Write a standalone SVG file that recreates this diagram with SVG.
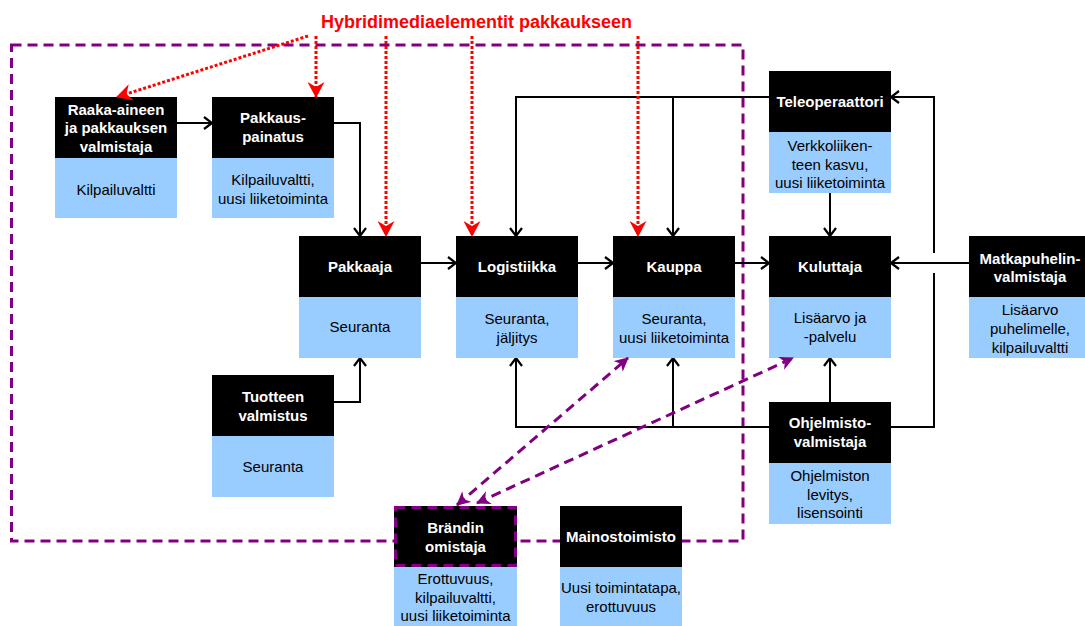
<svg xmlns="http://www.w3.org/2000/svg" width="1085" height="626" viewBox="0 0 1085 626">
  <style>
    .head { fill: #000000; }
    .body { fill: #99ccff; }
    .ttl { font-family: "Liberation Sans", Arial, sans-serif; font-size: 15px; font-weight: bold; fill: #ffffff; text-anchor: middle; }
    .txt { font-family: "Liberation Sans", Arial, sans-serif; font-size: 15px; fill: #000000; text-anchor: middle; }
    .flow { fill: none; stroke: #000000; stroke-width: 2; }
    .hyb { fill: none; stroke: #ff0000; stroke-width: 3; stroke-dasharray: 3 2; }
    .brand { fill: none; stroke: #800080; stroke-width: 3; stroke-dasharray: 10 6; }
  </style>
  <defs>
    <marker id="open" viewBox="0 0 10 14" refX="9" refY="7" markerWidth="10" markerHeight="14" markerUnits="userSpaceOnUse" orient="auto">
      <path d="M1,1 L9,7 L1,13" fill="none" stroke="#000000" stroke-width="2.2"/>
    </marker>
    <marker id="red" viewBox="0 0 16 17" refX="15" refY="8.5" markerWidth="16" markerHeight="17" markerUnits="userSpaceOnUse" orient="auto">
      <path d="M0,0 L16,8.5 L0,17 L5,8.5 z" fill="#ff0000"/>
    </marker>
    <marker id="pur" viewBox="0 0 14 14" refX="13" refY="7" markerWidth="14" markerHeight="14" markerUnits="userSpaceOnUse" orient="auto-start-reverse">
      <path d="M0,0 L14,7 L0,14 L4,7 z" fill="#800080"/>
    </marker>
  </defs>

  <!-- value network boundary -->
  <rect id="boundary" x="11.5" y="45" width="731.5" height="496" class="brand"/>

  <!-- black flow connectors -->
  <g id="connectors">
    <path class="flow" d="M177,123 H212" marker-end="url(#open)"/>
    <path class="flow" d="M334,123 H360 V236" marker-end="url(#open)"/>
    <path class="flow" d="M334,402 H360 V358" marker-end="url(#open)"/>
    <path class="flow" d="M421,263 H456" marker-end="url(#open)"/>
    <path class="flow" d="M578,263 H613" marker-end="url(#open)"/>
    <path class="flow" d="M735,263 H769" marker-end="url(#open)"/>
    <path class="flow" d="M769,97 H516 V236" marker-end="url(#open)"/>
    <path class="flow" d="M673,97 V236" marker-end="url(#open)"/>
    <path class="flow" d="M830,193 V236" marker-end="url(#open)"/>
    <path class="flow" d="M891,427 H934 V273"/>
    <path class="flow" d="M934,253 V97 H891" marker-end="url(#open)"/>
    <path class="flow" d="M769,427 H516 V358" marker-end="url(#open)"/>
    <path class="flow" d="M673,427 V358" marker-end="url(#open)"/>
    <path class="flow" d="M830,402 V358" marker-end="url(#open)"/>
    <path class="flow" d="M969,263 H891" marker-end="url(#open)"/>
  </g>

  <!-- nodes -->
  <g id="raaka">
    <rect class="head" x="55" y="97" width="122" height="61"/>
    <rect class="body" x="55" y="158" width="122" height="60"/>
    <text class="ttl" x="116" y="115">Raaka-aineen</text>
    <text class="ttl" x="116" y="133">ja pakkauksen</text>
    <text class="ttl" x="116" y="152">valmistaja</text>
    <text class="txt" x="116" y="195">Kilpailuvaltti</text>
  </g>
  <g id="pakkauspainatus">
    <rect class="head" x="212" y="97" width="122" height="61"/>
    <rect class="body" x="212" y="158" width="122" height="60"/>
    <text class="ttl" x="273" y="123">Pakkaus-</text>
    <text class="ttl" x="273" y="142">painatus</text>
    <text class="txt" x="273" y="185">Kilpailuvaltti,</text>
    <text class="txt" x="273" y="204">uusi liiketoiminta</text>
  </g>
  <g id="pakkaaja">
    <rect class="head" x="299" y="236" width="122" height="61"/>
    <rect class="body" x="299" y="297" width="122" height="61"/>
    <text class="ttl" x="360" y="272">Pakkaaja</text>
    <text class="txt" x="360" y="332">Seuranta</text>
  </g>
  <g id="tuotteen-valmistus">
    <rect class="head" x="212" y="375" width="122" height="61"/>
    <rect class="body" x="212" y="436" width="122" height="61"/>
    <text class="ttl" x="273" y="402">Tuotteen</text>
    <text class="ttl" x="273" y="421">valmistus</text>
    <text class="txt" x="273" y="472">Seuranta</text>
  </g>
  <g id="logistiikka">
    <rect class="head" x="456" y="236" width="122" height="61"/>
    <rect class="body" x="456" y="297" width="122" height="61"/>
    <text class="ttl" x="517" y="272">Logistiikka</text>
    <text class="txt" x="517" y="324">Seuranta,</text>
    <text class="txt" x="517" y="343">jäljitys</text>
  </g>
  <g id="kauppa">
    <rect class="head" x="613" y="236" width="122" height="61"/>
    <rect class="body" x="613" y="297" width="122" height="61"/>
    <text class="ttl" x="674" y="272">Kauppa</text>
    <text class="txt" x="674" y="324">Seuranta,</text>
    <text class="txt" x="674" y="343">uusi liiketoiminta</text>
  </g>
  <g id="teleoperaattori">
    <rect class="head" x="769" y="71" width="122" height="61"/>
    <rect class="body" x="769" y="132" width="122" height="61"/>
    <text class="ttl" x="830" y="107">Teleoperaattori</text>
    <text class="txt" x="830" y="151">Verkkoliiken-</text>
    <text class="txt" x="830" y="170">teen kasvu,</text>
    <text class="txt" x="830" y="188">uusi liiketoiminta</text>
  </g>
  <g id="kuluttaja">
    <rect class="head" x="769" y="236" width="122" height="61"/>
    <rect class="body" x="769" y="297" width="122" height="61"/>
    <text class="ttl" x="830" y="272">Kuluttaja</text>
    <text class="txt" x="830" y="323">Lisäarvo ja</text>
    <text class="txt" x="830" y="342">-palvelu</text>
  </g>
  <g id="matkapuhelinvalmistaja">
    <rect class="head" x="969" y="236" width="122" height="61"/>
    <rect class="body" x="969" y="297" width="122" height="61"/>
    <text class="ttl" x="1030" y="264">Matkapuhelin-</text>
    <text class="ttl" x="1030" y="282">valmistaja</text>
    <text class="txt" x="1030" y="315">Lisäarvo</text>
    <text class="txt" x="1030" y="334">puhelimelle,</text>
    <text class="txt" x="1030" y="353">kilpailuvaltti</text>
  </g>
  <g id="ohjelmistovalmistaja">
    <rect class="head" x="769" y="402" width="122" height="61"/>
    <rect class="body" x="769" y="463" width="122" height="61"/>
    <text class="ttl" x="830" y="428">Ohjelmisto-</text>
    <text class="ttl" x="830" y="447">valmistaja</text>
    <text class="txt" x="830" y="481">Ohjelmiston</text>
    <text class="txt" x="830" y="500">levitys,</text>
    <text class="txt" x="830" y="518">lisensointi</text>
  </g>
  <g id="brandin-omistaja">
    <rect class="head" x="394" y="506" width="123" height="61"/>
    <rect class="brand" x="395.5" y="507.5" width="120" height="58"/>
    <rect class="body" x="394" y="567" width="123" height="59"/>
    <text class="ttl" x="455.5" y="533">Brändin</text>
    <text class="ttl" x="455.5" y="552">omistaja</text>
    <text class="txt" x="455.5" y="584">Erottuvuus,</text>
    <text class="txt" x="455.5" y="603">kilpailuvaltti,</text>
    <text class="txt" x="455.5" y="621">uusi liiketoiminta</text>
  </g>
  <g id="mainostoimisto">
    <rect class="head" x="560" y="506" width="122" height="61"/>
    <rect class="body" x="560" y="567" width="122" height="59"/>
    <text class="ttl" x="621" y="542">Mainostoimisto</text>
    <text class="txt" x="621" y="593">Uusi toimintatapa,</text>
    <text class="txt" x="621" y="612">erottuvuus</text>
  </g>

  <!-- brand owner links -->
  <g id="brand-links">
    <path class="brand" d="M457,505 L628,358" marker-start="url(#pur)" marker-end="url(#pur)"/>
    <path class="brand" d="M477,503 L793,358" marker-start="url(#pur)" marker-end="url(#pur)"/>
  </g>

  <!-- hybrid media elements -->
  <g id="hybrid">
    <text x="476.5" y="28" font-family="Liberation Sans, Arial, sans-serif" font-size="18" font-weight="bold" fill="#ff0000" text-anchor="middle">Hybridimediaelementit pakkaukseen</text>
    <path class="hyb" d="M308,36 L117,97" marker-end="url(#red)"/>
    <path class="hyb" d="M316,36 V97" marker-end="url(#red)"/>
    <path class="hyb" d="M386,36 V236" marker-end="url(#red)"/>
    <path class="hyb" d="M472,36 V236" marker-end="url(#red)"/>
    <path class="hyb" d="M638,36 V236" marker-end="url(#red)"/>
  </g>
</svg>
